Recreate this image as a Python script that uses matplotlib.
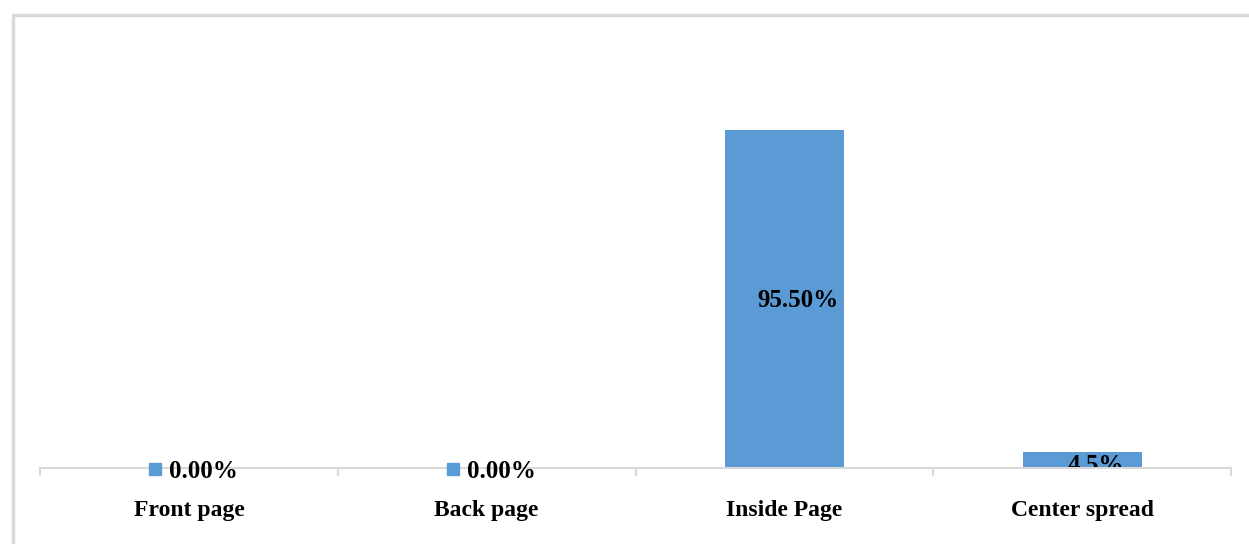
import matplotlib.pyplot as plt
import matplotlib.transforms as mtransforms
from matplotlib.patches import Rectangle

categories = ['Front page', 'Back page', 'Inside Page', 'Center spread']
values = [0.0, 0.0, 95.5, 4.5]
labels = ['0.00%', '0.00%', '95.50%', '4.5%']

bar_color = '#5B9BD5'
grid_color = '#D9D9D9'

plt.rcParams['font.family'] = ['Liberation Serif', 'DejaVu Serif']
plt.rcParams['font.weight'] = 'bold'

fig = plt.figure(figsize=(12.49, 5.44), dpi=100)
ax = fig.add_axes([40 / 1249, 1 - 468 / 544, (1231 - 40) / 1249, (468 - 43) / 544])

x = list(range(len(categories)))
ax.bar(x, values, width=0.4, color=bar_color, zorder=2)

ax.set_xlim(-0.5, len(categories) - 0.5)
ax.set_ylim(0, 120)

# spines / ticks like the excel look
for s in ['top', 'right', 'left']:
    ax.spines[s].set_visible(False)
ax.spines['bottom'].set_color(grid_color)
ax.spines['bottom'].set_linewidth(1.5)
ax.spines['bottom'].set_zorder(3)
ax.set_yticks([])
ax.set_xticks([i - 0.5 for i in range(len(categories) + 1)], minor=False)
ax.set_xticklabels([])
ax.set_xticks(x, minor=True)
ax.set_xticklabels(categories, minor=True, fontsize=17, fontweight='bold')
ax.tick_params(axis='x', which='major', length=6, width=1.5, color=grid_color)
ax.tick_params(axis='x', which='minor', length=0, pad=23)

# data labels (excel leaves room for the legend key, so they sit a bit right)
key_tr = mtransforms.offset_copy(ax.transData, fig=fig, x=-34, y=-1, units='dots')
zero_tr = mtransforms.offset_copy(ax.transData, fig=fig, x=15, y=-4, units='dots')
big_tr = mtransforms.offset_copy(ax.transData, fig=fig, x=14, y=-2, units='dots')
small_tr = mtransforms.offset_copy(ax.transData, fig=fig, x=14, y=-5, units='dots')
for xi, v, lab in zip(x, values, labels):
    if v == 0:
        ax.text(xi, 0, lab, transform=zero_tr, ha='center', va='center',
                fontsize=18, fontweight='bold', clip_on=False, zorder=4)
        ax.plot([xi], [0], marker='s', markersize=8.5, color=bar_color,
                transform=key_tr, clip_on=False, zorder=4)
    else:
        tr = big_tr if v >= 10 else small_tr
        ax.text(xi, v / 2, lab, transform=tr, ha='center', va='center',
                fontsize=18, fontweight='bold', clip_on=True, zorder=2.5)

# outer chart frame
fig.patches.append(Rectangle((13 / 1249, -0.1), 1.2, 1.1 - 15 / 544, transform=fig.transFigure,
                             fill=False, edgecolor=grid_color, linewidth=2.5))

fig.savefig('out.png', dpi=100)
